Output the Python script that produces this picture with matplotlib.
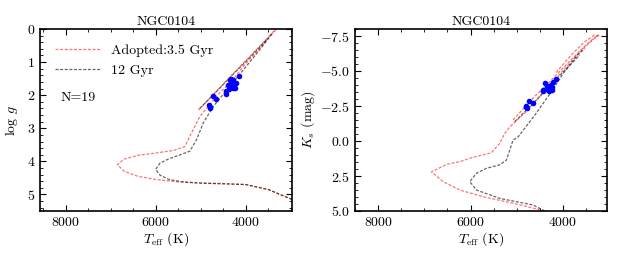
import matplotlib
matplotlib.use("Agg")
import matplotlib.pyplot as plt
from matplotlib.ticker import MultipleLocator

plt.rcParams['font.family'] = 'serif'
plt.rcParams['font.serif'] = ['cmr10', 'DejaVu Serif']
plt.rcParams['mathtext.fontset'] = 'cm'
plt.rcParams['axes.formatter.use_mathtext'] = True
plt.rcParams['font.size'] = 10

# observed stars
teff_obs = [4810, 4800, 4790, 4730, 4660, 4440, 4430, 4400, 4380, 4350,
            4330, 4320, 4300, 4280, 4270, 4250, 4240, 4220, 4150]
logg_obs = [2.30, 2.36, 2.38, 2.01, 2.13, 1.88, 1.95, 1.70, 1.82, 1.55,
            1.50, 1.62, 1.68, 1.78, 1.55, 1.65, 1.78, 1.62, 1.42]
ks_obs = [-2.45, -2.50, -2.38, -2.86, -2.75, -3.65, -3.55, -4.12, -3.70, -3.90,
          -3.80, -3.75, -3.60, -3.95, -4.00, -3.85, -3.65, -4.20, -4.45]

# 3.5 Gyr isochrone, logg (MS -> RGB tip, then HB/AGB)
t35_rgb = [2970, 3500, 4000, 4500, 5000, 5500, 6000, 6400, 6700, 6850,
           6700, 6400, 6000, 5600, 5350, 5276, 5164, 5016, 4831, 4645,
           4300, 4000, 3700, 3450, 3311]
g35_rgb = [5.15, 4.85, 4.70, 4.67, 4.65, 4.62, 4.55, 4.45, 4.30, 4.10,
           3.93, 3.82, 3.75, 3.67, 3.55, 3.34, 3.04, 2.64, 2.34, 2.03,
           1.55, 1.05, 0.60, 0.20, 0.00]
t35_agb = [5050, 4700, 4300, 3900, 3600, 3330]
g35_agb = [2.45, 1.95, 1.38, 0.82, 0.40, 0.00]

# 12 Gyr isochrone, logg
t12_rgb = [2970, 3500, 4000, 4500, 5000, 5400, 5700, 5900, 6000,
           5900, 5700, 5450, 5238, 5089, 4942, 4720, 4533,
           4300, 4000, 3700, 3400]
g12_rgb = [5.15, 4.85, 4.70, 4.68, 4.66, 4.62, 4.55, 4.42, 4.24,
           4.05, 3.92, 3.80, 3.69, 3.34, 2.84, 2.34, 2.03,
           1.65, 1.15, 0.65, 0.12]
t12_agb = [5020, 4700, 4300, 3900, 3520]
g12_agb = [2.40, 1.96, 1.40, 0.85, 0.30]

# 3.5 Gyr isochrone, Ks
k35_t_rgb = [4396, 5010, 5730, 6234, 6595, 6846, 6500, 6234, 5946, 5656, 5549,
             5369, 5261, 5153, 4800, 4500, 4200, 3900, 3600, 3400, 3230]
k35_k_rgb = [5.00, 4.50, 3.98, 3.50, 2.90, 2.20, 1.65, 1.48, 1.16, 0.93, 0.84,
             0.16, -0.55, -1.00, -2.10, -3.20, -4.30, -5.40, -6.50, -7.10, -7.60]
k35_t_agb = [5081, 4700, 4288, 3900, 3600, 3423, 3250]
k35_k_agb = [-1.50, -2.90, -4.24, -5.55, -6.55, -7.10, -7.55]
k35_t_tp = [4150, 3850, 3550, 3330, 3200]
k35_k_tp = [-4.90, -6.05, -7.05, -7.55, -7.50]

# 12 Gyr isochrone, Ks
k12_t_rgb = [4396, 4649, 5369, 5873, 6017, 5873, 5656, 5369, 5225, 5081,
             4970, 4600, 4300, 4000, 3700, 3530]
k12_k_rgb = [5.00, 4.57, 4.10, 3.50, 2.90, 2.30, 1.95, 1.70, 1.36, -0.07,
             -0.30, -1.90, -3.30, -4.80, -6.10, -6.60]
k12_t_agb = [5045, 4600, 4200, 3900, 3640]
k12_k_agb = [-1.38, -2.85, -4.25, -5.25, -6.14]

red = dict(color='red', ls='--', dashes=(2.4, 1.3), lw=0.9, alpha=0.55)
gray = dict(color='k', ls='--', dashes=(2.4, 1.3), lw=0.9, alpha=0.6)

fig = plt.figure(figsize=(6.23, 2.6), dpi=100)
ax1 = fig.add_axes([40/623, 1-211/260, 252/623, 182/260])
ax2 = fig.add_axes([355/623, 1-211/260, 252/623, 182/260])

ax1.plot(t35_rgb, g35_rgb, label='Adopted:3.5 Gyr', **red)
ax1.plot(t35_agb, g35_agb, **red)
ax1.plot(t12_rgb, g12_rgb, label='12 Gyr', **gray)
ax1.plot(t12_agb, g12_agb, **gray)
ax1.scatter(teff_obs, logg_obs, s=9, color='blue', zorder=5)
ax1.set_xlim(8570, 2970)
ax1.set_ylim(5.5, 0)
ax1.set_xlabel(r'$T_{\rm eff}$ (K)', labelpad=1)
ax1.set_ylabel(r'log $g$', labelpad=5)
ax1.set_title('NGC0104', fontsize=10, pad=3)
ax1.xaxis.set_major_locator(MultipleLocator(2000))
ax1.xaxis.set_minor_locator(MultipleLocator(500))
ax1.yaxis.set_major_locator(MultipleLocator(1))
ax1.yaxis.set_minor_locator(MultipleLocator(0.2))
ax1.text(0.08, 0.62, 'N=19', transform=ax1.transAxes, va='center')
ax1.legend(loc='upper left', frameon=False, handlelength=3.2, handletextpad=0.8,
           borderaxespad=0.7, labelspacing=0.5)

ax2.plot(k35_t_rgb, k35_k_rgb, **red)
ax2.plot(k35_t_agb, k35_k_agb, **red)
ax2.plot(k35_t_tp, k35_k_tp, **red)
ax2.plot(k12_t_rgb, k12_k_rgb, **gray)
ax2.plot(k12_t_agb, k12_k_agb, **gray)
ax2.scatter(teff_obs, ks_obs, s=9, color='blue', zorder=5)
ax2.set_xlim(8500, 3050)
ax2.set_ylim(5, -8)
ax2.set_xlabel(r'$T_{\rm eff}$ (K)', labelpad=1)
ax2.set_ylabel(r'$K_s$ (mag)', labelpad=2)
ax2.set_title('NGC0104', fontsize=10, pad=3)
ax2.xaxis.set_major_locator(MultipleLocator(2000))
ax2.xaxis.set_minor_locator(MultipleLocator(500))
ax2.yaxis.set_major_locator(MultipleLocator(2.5))
ax2.yaxis.set_minor_locator(MultipleLocator(0.5))

for ax in (ax1, ax2):
    ax.tick_params(which='both', direction='in', top=True, right=True)
    ax.tick_params(which='major', length=4)
    ax.tick_params(which='minor', length=2)
    for s in ax.spines.values():
        s.set_linewidth(1.2)

fig.savefig('out.png', dpi=100)
